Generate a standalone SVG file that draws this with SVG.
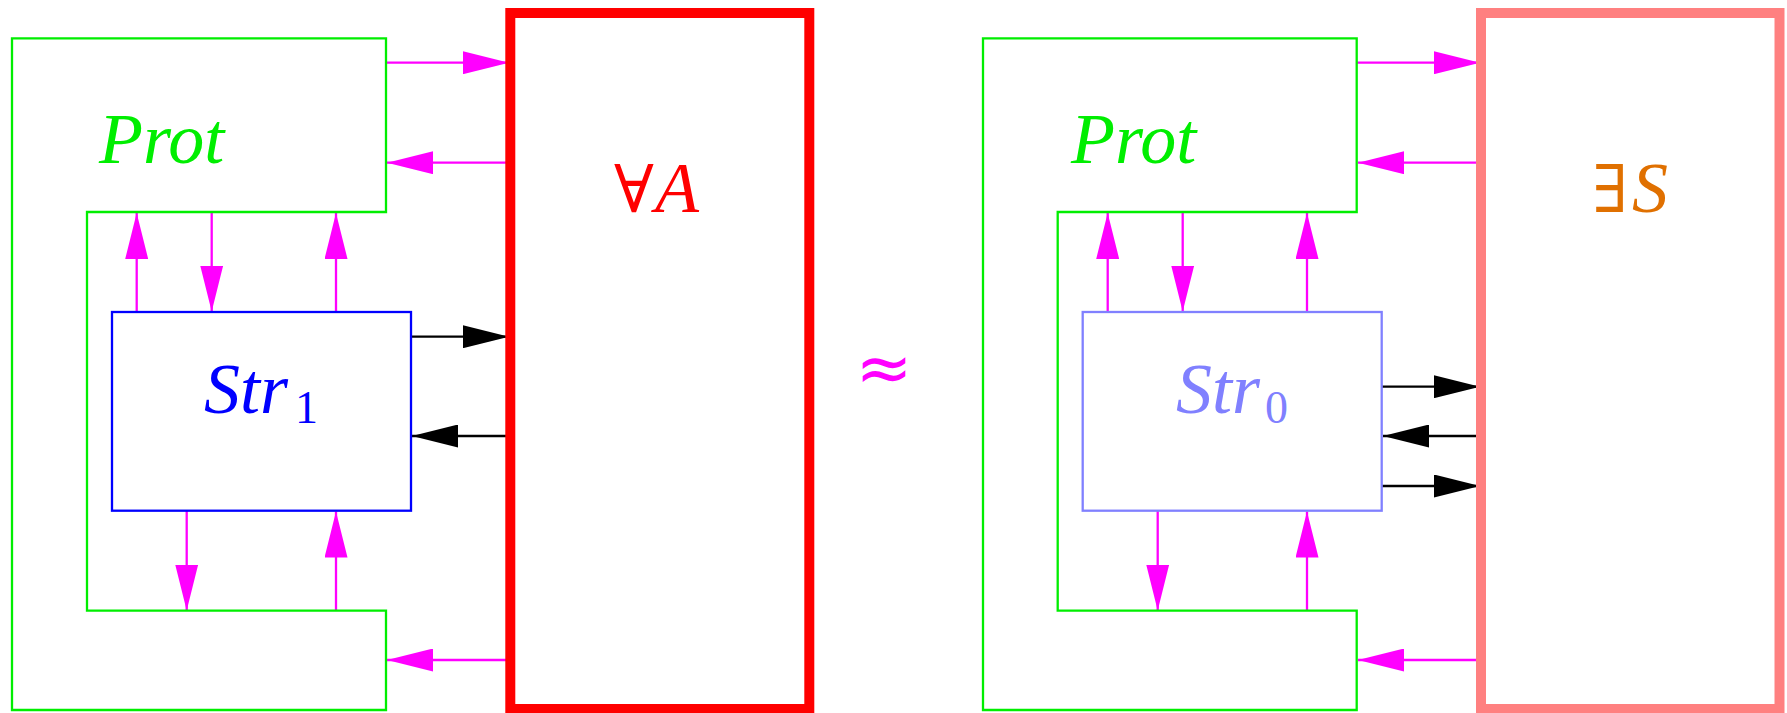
<svg xmlns="http://www.w3.org/2000/svg" width="1787" height="713" viewBox="0 0 1787 713">
<style>
.prot{fill:none;stroke:#00ee00;stroke-width:2.3}
.str1{fill:none;stroke:#0000ff;stroke-width:2.3}
.str0{fill:none;stroke:#8080ff;stroke-width:2.3}
.adv{fill:none;stroke:#ff0000;stroke-width:10}
.sim{fill:none;stroke:#ff8080;stroke-width:10}
.m{stroke:#ff00ff;stroke-width:2.3;fill:none;marker-end:url(#hm)}
.k{stroke:#000000;stroke-width:2.3;fill:none;marker-end:url(#hk)}
.t{font-family:"Liberation Serif","DejaVu Serif",serif;font-style:italic;font-size:72px}
.sub{font-style:normal;font-size:46px}
.up{font-family:"DejaVu Serif","Liberation Serif",serif;font-style:normal;font-size:66px}
</style>
<defs>
<marker id="hm" viewBox="0 0 46 23" refX="46" refY="11.5" markerWidth="46" markerHeight="23" markerUnits="userSpaceOnUse" orient="auto"><path d="M0,0 L46,11.5 L0,23 z" fill="#ff00ff"/></marker>
<marker id="hk" viewBox="0 0 46 23" refX="46" refY="11.5" markerWidth="46" markerHeight="23" markerUnits="userSpaceOnUse" orient="auto"><path d="M0,0 L46,11.5 L0,23 z" fill="#000000"/></marker>
</defs>
<g id="connectors">
<line class="m" x1="386" y1="62.7" x2="509" y2="62.7"/>
<line class="m" x1="510" y1="162.7" x2="387" y2="162.7"/>
<line class="m" x1="510" y1="660" x2="387" y2="660"/>
<line class="m" x1="136.7" y1="312" x2="136.7" y2="213"/>
<line class="m" x1="211.7" y1="212" x2="211.7" y2="311.5"/>
<line class="m" x1="336" y1="312" x2="336" y2="213"/>
<line class="m" x1="186.7" y1="511" x2="186.7" y2="610.5"/>
<line class="m" x1="336" y1="611" x2="336" y2="511.5"/>
<line class="k" x1="411" y1="336.7" x2="509" y2="336.7"/>
<line class="k" x1="510" y1="436" x2="412" y2="436"/>
<line class="m" x1="1357" y1="62.7" x2="1480" y2="62.7"/>
<line class="m" x1="1481" y1="162.7" x2="1358" y2="162.7"/>
<line class="m" x1="1481" y1="660" x2="1358" y2="660"/>
<line class="m" x1="1107.7" y1="312" x2="1107.7" y2="213"/>
<line class="m" x1="1182.7" y1="212" x2="1182.7" y2="311.5"/>
<line class="m" x1="1307" y1="312" x2="1307" y2="213"/>
<line class="m" x1="1157.7" y1="511" x2="1157.7" y2="610.5"/>
<line class="m" x1="1307" y1="611" x2="1307" y2="511.5"/>
<line class="k" x1="1382" y1="386.7" x2="1480" y2="386.7"/>
<line class="k" x1="1481" y1="436" x2="1383" y2="436"/>
<line class="k" x1="1382" y1="486" x2="1480" y2="486"/>
</g>
<g id="prot-left">
<path class="prot" d="M12,38.3 H386 V212 H87 V610.7 H386 V710 H12 Z"/>
<text class="t" x="99" y="163" fill="#00ee00">Prot</text>
</g>
<g id="str1">
<rect class="str1" x="112" y="312" width="299" height="198.7"/>
<text class="t" x="204" y="413" fill="#0000ff">Str<tspan class="sub" x="295" y="423">1</tspan></text>
</g>
<g id="adversary">
<rect class="adv" x="510.3" y="13" width="299" height="696"/>
<text class="t" x="614" y="212" fill="#ff0000"><tspan class="up">∀</tspan><tspan x="655">A</tspan></text>
</g>
<g id="approx">
<text x="884" y="391" font-family="DejaVu Sans, sans-serif" font-size="68" text-anchor="middle" fill="#ff00ff">≈</text>
</g>
<g id="prot-right">
<path class="prot" d="M983,38.3 H1356.7 V212 H1057.7 V610.7 H1356.7 V710 H983 Z"/>
<text class="t" x="1071" y="163" fill="#00ee00">Prot</text>
</g>
<g id="str0">
<rect class="str0" x="1082.7" y="312" width="299" height="198.7"/>
<text class="t" x="1176" y="413" fill="#8080ff">Str<tspan class="sub" x="1265" y="423">0</tspan></text>
</g>
<g id="simulator">
<rect class="sim" x="1481" y="13" width="298.5" height="696"/>
<text class="t" x="1592" y="212" fill="#e07000"><tspan class="up">∃</tspan><tspan x="1632">S</tspan></text>
</g>
</svg>
